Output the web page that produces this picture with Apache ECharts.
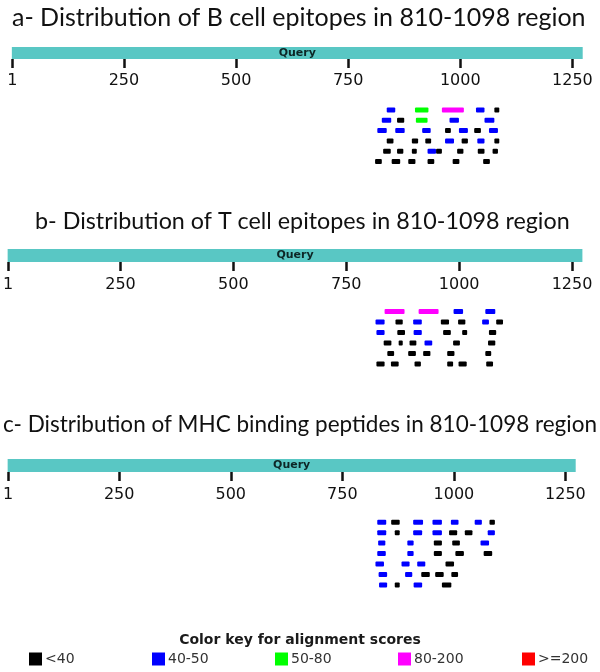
<!DOCTYPE html>
<html>
<head>
<meta charset="utf-8">
<script src="https://cdn.jsdelivr.net/npm/echarts@6/dist/echarts.min.js"></script>
<style>html,body{margin:0;padding:0;background:#fff}#c{width:600px;height:672px}</style>
</head>
<body>
<div id="c"></div>
<script>
// ---------- data ----------
const queryLength = 1273;
const tickValues = [1, 250, 500, 750, 1000, 1250];
const panelTitles = [
  'a- Distribution of B cell epitopes in 810-1098 region',
  'b- Distribution of T cell epitopes in 810-1098 region',
  'c- Distribution of MHC binding peptides in 810-1098 region'
];
const scoreClasses = ['<40', '40-50', '50-80', '80-200', '>=200'];
const keyTitle = 'Color key for alignment scores';
// [start, end, row, scoreClassIndex]
const dashesA = [
  [836,855,0,1],[899,929,0,2],[959,1008,0,3],[1035,1054,0,1],[1076,1087,0,0],
  [825,846,1,1],[859,875,1,0],[901,927,1,2],[976,997,1,1],[1054,1076,1,1],
  [815,836,2,1],[855,876,2,1],[915,934,2,1],[966,979,2,0],[997,1017,2,1],[1031,1046,2,0],[1064,1084,2,1],
  [836,851,3,0],[892,906,3,0],[922,935,3,0],[966,986,3,1],[1003,1017,3,0],[1038,1054,3,1],[1076,1087,3,0],
  [828,845,4,0],[859,873,4,0],[892,903,4,0],[927,946,4,1],[946,959,4,0],[993,1007,4,0],[1039,1054,4,0],[1072,1084,4,0],
  [810,825,5,0],[847,866,5,0],[884,900,5,0],[927,942,5,0],[983,998,5,0],[1051,1066,5,0]
];
const dashesB = [
  [837,881,0,3],[912,956,0,3],[989,1010,0,1],[1059,1081,0,1],
  [817,837,1,1],[861,877,1,0],[900,919,1,1],[961,979,1,0],[999,1015,1,0],[1052,1067,1,1],[1083,1098,1,0],
  [819,837,2,1],[865,882,2,0],[901,919,2,1],[966,983,2,0],[1008,1019,2,0],[1067,1083,2,0],
  [835,852,3,0],[868,877,3,0],[892,907,3,0],[925,942,3,1],[988,1003,3,0],[1065,1081,3,0],
  [843,858,4,0],[889,906,4,0],[922,938,4,0],[975,991,4,0],[1059,1072,4,0],
  [819,837,5,0],[851,868,5,0],[903,917,5,0],[975,988,5,0],[1000,1018,5,0],[1061,1076,5,0]
];
const dashesC = [
  [831,851,0,1],[862,881,0,0],[911,933,0,1],[954,975,0,1],[995,1012,0,1],[1048,1064,0,1],[1081,1093,0,0],
  [831,851,1,1],[870,881,1,0],[911,931,1,1],[954,975,1,1],[991,1009,1,0],[1026,1043,1,0],[1077,1093,1,1],
  [833,849,2,1],[898,912,2,1],[957,975,2,0],[998,1015,2,0],[1061,1080,2,1],
  [831,850,3,1],[898,912,3,1],[957,975,3,0],[1005,1024,3,0],[1068,1087,3,0],
  [827,846,4,1],[885,903,4,1],[920,938,4,1],[983,1002,4,0],
  [834,853,5,1],[893,909,5,1],[929,948,5,0],[960,979,5,0],[996,1011,5,0],
  [835,853,6,1],[870,881,6,0],[912,931,6,1],[975,996,6,0]
];
const panelDashes = [dashesA, dashesB, dashesC];

// ---------- styles / layout ----------
const classColors = ['#000000', '#0000ff', '#00ff00', '#ff00ff', '#ff0000'];
const layout = [
  {left: 11.85, right: 17.3, titleLeft: 12, titleTop: 5, titleSize: 25, barTop: 47, barH: 12, labelMargin: 14, rowTop: 110, rowStep: 10.3, rows: 6},
  {left: 4.85, right: 17.6, titleLeft: 35, titleTop: 210, titleSize: 23.3, barTop: 249, barH: 13, labelMargin: 15, rowTop: 311.6, rowStep: 10.5, rows: 6},
  {left: 4.15, right: 24.3, titleLeft: 3, titleTop: 413, titleSize: 22.5, barTop: 459, barH: 13, labelMargin: 15, rowTop: 522.2, rowStep: 10.45, rows: 7}
];
const legendLefts = [29, 152, 275, 398, 522];

const grids = [], xAxes = [], yAxes = [], series = [], titles = [];
layout.forEach((L, p) => {
  titles.push({text: panelTitles[p], left: L.titleLeft, top: L.titleTop, padding: 0,
    textStyle: {fontFamily: 'Lato', fontSize: L.titleSize, fontWeight: 'normal', color: '#111'}});
  // query grid
  grids.push({left: L.left, right: L.right, top: L.barTop, height: L.barH});
  xAxes.push({gridIndex: 2*p, type: 'value', min: 0, max: queryLength, position: 'bottom',
    axisLine: {show: false}, splitLine: {show: false},
    axisTick: {show: true, customValues: tickValues, length: 9, lineStyle: {color: '#111', width: 2.5}},
    axisLabel: {customValues: tickValues, formatter: v => String(v), fontFamily: 'DejaVu Sans', fontSize: 16, color: '#111', margin: L.labelMargin}});
  yAxes.push({gridIndex: 2*p, type: 'category', data: ['Query'], show: false});
  series.push({type: 'bar', name: 'Query', xAxisIndex: 2*p, yAxisIndex: 2*p, data: [queryLength],
    barWidth: '100%', itemStyle: {color: '#59c7c4'}, silent: true,
    label: {show: true, position: 'inside', formatter: 'Query', fontFamily: 'DejaVu Sans', fontWeight: 'bold', fontSize: 11, color: '#0d2626'}});
  // dash grid
  grids.push({left: L.left, right: L.right, top: L.rowTop - L.rowStep/2, height: L.rowStep * L.rows});
  xAxes.push({gridIndex: 2*p+1, type: 'value', min: 0, max: queryLength, show: false});
  yAxes.push({gridIndex: 2*p+1, type: 'value', min: -0.5, max: L.rows - 0.5, inverse: true, show: false});
  scoreClasses.forEach((name, k) => {
    series.push({type: 'custom', name: name, xAxisIndex: 2*p+1, yAxisIndex: 2*p+1,
      itemStyle: {color: classColors[k]},
      encode: {x: [0, 1], y: 2},
      data: panelDashes[p].filter(d => d[3] === k),
      renderItem: function (params, api) {
        const s = api.coord([api.value(0), api.value(2)]);
        const e = api.coord([api.value(1), api.value(2)]);
        const h = 5;
        return {type: 'rect', shape: {x: s[0], y: s[1] - h/2, width: e[0] - s[0], height: h, r: 1},
          style: {fill: api.visual('color')}};
      }});
  });
});
titles.push({text: keyTitle, left: 'center', top: 633, padding: 0,
  textStyle: {fontFamily: 'DejaVu Sans', fontSize: 14, fontWeight: 'bold', color: '#1a1a1a'}});

const legends = scoreClasses.map((name, k) => ({
  data: [name], left: legendLefts[k], top: 652, padding: 0, icon: 'rect', itemWidth: 13, itemHeight: 13,
  selectedMode: false, textStyle: {fontFamily: 'DejaVu Sans', fontSize: 14, color: '#333', padding: [0, 0, 0, -2]}
}));

const chart = echarts.init(document.getElementById('c'), null, {renderer: 'canvas'});
chart.setOption({
  animation: false,
  title: titles,
  legend: legends,
  grid: grids,
  xAxis: xAxes,
  yAxis: yAxes,
  series: series
});
</script>
</body>
</html>
